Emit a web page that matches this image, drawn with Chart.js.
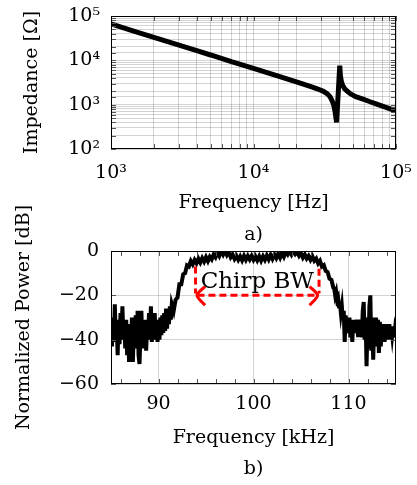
<!DOCTYPE html>
<html>
<head>
<meta charset="utf-8">
<script src="https://cdn.jsdelivr.net/npm/chart.js@4.4.0/dist/chart.umd.min.js"></script>
<style>
  body { margin: 0; background: #fff; }
  #wrap { position: relative; width: 417px; height: 485px; }
  canvas { position: absolute; left: 0; }
  #impChart { top: 0; }
  #powerChart { top: 180px; }
</style>
</head>
<body>
<div id="wrap">
  <canvas id="impChart" width="417" height="251"></canvas>
  <canvas id="powerChart" width="417" height="305"></canvas>
</div>
<script>
// a) impedance of the transducer (Hz, ohm)
const impFreq = [1000, 1500, 2000, 3000, 4000, 5000, 7000, 10000, 14000, 20000, 25000, 28000, 31000, 33000,
  34500, 35500, 36500, 37300, 37900, 38300, 40300, 40700, 41300, 42200, 43500, 45500, 48000, 52000, 58000,
  65000, 75000, 87000, 100000];
const impOhm = [66000, 44000, 33000, 22000, 16500, 13200, 9400, 6600, 4700, 3250, 2580, 2280, 2000, 1750,
  1500, 1250, 1000, 720, 500, 400, 7600, 4600, 3400, 2750, 2300, 2000, 1750, 1520, 1350,
  1180, 1000, 850, 720];

// b) received spectrum (kHz, dB)
const powerFreq = [
  85.0, 85.1, 85.2, 85.3, 85.4, 85.5, 85.6, 85.7, 85.8, 85.9, 86.0, 86.1, 86.2, 86.3, 86.4, 86.5, 86.6, 86.7, 86.8, 86.9,
  87.0, 87.1, 87.2, 87.3, 87.4, 87.5, 87.6, 87.7, 87.8, 87.9, 88.0, 88.1, 88.2, 88.3, 88.4, 88.5, 88.6, 88.7, 88.8, 88.9,
  89.0, 89.1, 89.2, 89.3, 89.4, 89.5, 89.6, 89.7, 89.8, 89.9, 90.0, 90.1, 90.2, 90.3, 90.4, 90.5, 90.6, 90.7, 90.8, 90.9,
  91.0, 91.1, 91.2, 91.3, 91.4,
  91.6, 91.8, 92.0, 92.2, 92.4, 92.6, 92.8, 93.0, 93.2, 93.4, 93.6, 93.8, 94.0, 94.2, 94.4, 94.6, 94.8,
  95.0, 95.2, 95.4, 95.6, 95.8, 96.0, 96.2, 96.4, 96.6, 96.8, 97.0, 97.2, 97.4, 97.6, 97.8,
  98.0, 98.2, 98.4, 98.6, 98.8, 99.0, 99.2, 99.4, 99.6, 99.8, 100.0, 100.2, 100.4, 100.6, 100.8,
  101.0, 101.2, 101.4, 101.6, 101.8, 102.0, 102.2, 102.4, 102.6, 102.8, 103.0, 103.2, 103.4, 103.6, 103.8,
  104.0, 104.2, 104.4, 104.6, 104.8, 105.0, 105.2, 105.4, 105.6, 105.8, 106.0, 106.2, 106.4, 106.6, 106.8,
  107.0, 107.2, 107.4, 107.6, 107.8, 108.0, 108.2, 108.4,
  108.5, 108.6, 108.7, 108.8, 108.9, 109.0, 109.1, 109.2, 109.3, 109.4, 109.5, 109.6, 109.7, 109.8, 109.9,
  110.0, 110.1, 110.2, 110.3, 110.4, 110.5, 110.6, 110.7, 110.8, 110.9, 111.0, 111.1, 111.2, 111.3, 111.4,
  111.5, 111.6, 111.7, 111.8, 111.9, 112.0, 112.1, 112.2, 112.3, 112.4, 112.5, 112.6, 112.7, 112.8, 112.9,
  113.0, 113.1, 113.2, 113.3, 113.4, 113.5, 113.6, 113.7, 113.8, 113.9, 114.0, 114.1, 114.2, 114.3, 114.4,
  114.5, 114.6, 114.7, 114.8, 114.9, 115.0];
const powerDb = [
  -36, -43, -30, -41, -24, -39, -33, -47, -31, -42, -28, -40, -25, -38, -31, -44, -31, -47, -35, -50,
  -33, -49, -30, -50, -36, -43, -29, -44, -27, -47, -51, -38, -27, -44, -33, -42, -31, -45, -34, -40,
  -28, -38, -25, -41, -30, -39, -28, -40, -32, -41, -31, -40, -30, -38, -29, -37, -28, -36, -26, -35,
  -27, -33, -25, -31, -24,
  -27, -22, -21, -15, -15, -10.5, -10, -6.5, -7, -4.5, -6, -4, -5.5, -3.5, -5.2, -3.2, -4.8,
  -2.8, -4.6, -2.6, -3.8, -1.6, -2.8, -0.6, -2.2, 0, -1.6, 0.2, -1.8, -0.4, -2.8, -1.6,
  -3.6, -2.2, -4, -2.4, -4.2, -2.2, -4, -2.2, -3.8, -2.2, -4, -2.4, -4.2, -2.4, -4.4,
  -2.4, -4, -2, -3.8, -1.8, -3.6, -1.6, -3.2, -1.2, -3, -0.8, -2.6, -0.4, -1.6, 0,
  -1.6, 0.2, -1.4, -0.4, -2.2, -1, -3, -1.6, -3.4, -2.2, -4, -2.4, -4.4, -3.4, -5.6,
  -4.4, -7, -6.4, -9, -9.5, -12.5, -13, -16.5,
  -17, -20, -18.5, -22, -21, -25, -23.5, -28, -25, -31, -27, -41, -29, -36, -30,
  -37, -30, -39, -31, -41, -31, -36, -32, -37, -31, -38, -32, -37, -31, -39,
  -27, -23, -40, -30, -52, -33, -44, -25, -20, -45, -30, -49, -33, -43, -30,
  -42, -31, -46, -32, -43, -33, -41, -34, -41, -33, -39, -34, -40, -33, -39,
  -34, -38, -34, -39, -35, -37];
const powerTicks = [86, 88, 90, 92, 94, 96, 98, 100, 102, 104, 106, 108, 110, 112, 114];

// chirp bandwidth marker (kHz / dB)
const bwStart = 93.9;
const bwEnd = 106.9;
const bwLevel = -20;
const bwTop = -7;
const bwLabel = "Chirp BW";

Chart.defaults.font.family = "'DejaVu Serif', serif";
Chart.defaults.font.size = 19;
Chart.defaults.color = "#000";

const gridGray = "rgba(0,0,0,0.17)";
const sup = { 2: "\u00B2", 3: "\u00B3", 4: "\u2074", 5: "\u2075" };

function powLabel(v) {
  const e = Math.log10(v);
  if (Math.abs(e - Math.round(e)) < 1e-9) return "10" + sup[Math.round(e)];
  return "";
}

// pgfplots-like frame + inner tick marks
const frameTicks = {
  id: "frameTicks",
  afterDatasetsDraw(chart) {
    const { ctx, chartArea: a, scales } = chart;
    const x = scales.x, y = scales.y;
    ctx.save();
    ctx.strokeStyle = "#555";
    ctx.lineWidth = 1;
    ctx.beginPath();
    x.ticks.forEach((t) => {
      const px = Math.round(x.getPixelForValue(t.value)) + 0.5;
      ctx.moveTo(px, a.bottom); ctx.lineTo(px, a.bottom - 5);
      ctx.moveTo(px, a.top); ctx.lineTo(px, a.top + 5);
    });
    y.ticks.forEach((t) => {
      const py = Math.round(y.getPixelForValue(t.value)) + 0.5;
      ctx.moveTo(a.left, py); ctx.lineTo(a.left + 5, py);
      ctx.moveTo(a.right, py); ctx.lineTo(a.right - 5, py);
    });
    ctx.stroke();
    ctx.strokeStyle = "#000";
    ctx.strokeRect(a.left + 0.5, a.top + 0.5, a.width - 1, a.height - 1);
    ctx.restore();
  },
};

function noPad(scale) {
  scale.paddingLeft = 0;
  scale.paddingRight = 0;
  scale.paddingTop = 0;
  scale.paddingBottom = 0;
}

// ---- a) impedance ----
new Chart(document.getElementById("impChart").getContext("2d"), {
  type: "line",
  data: {
    datasets: [
      {
        data: impFreq.map((f, i) => ({ x: f, y: impOhm[i] })),
        borderColor: "#000",
        borderWidth: 5,
        borderJoinStyle: "bevel",
        pointRadius: 0,
        tension: 0,
        clip: 0,
      },
    ],
  },
  options: {
    responsive: false,
    animation: false,
    layout: { padding: { top: 16, right: 21, left: 0, bottom: 0 } },
    plugins: { legend: { display: false }, tooltip: { enabled: false } },
    scales: {
      x: {
        type: "logarithmic",
        min: 1000,
        max: 100000,
        grid: { color: gridGray, drawTicks: false },
        border: { display: false },
        ticks: { autoSkip: false, maxRotation: 0, padding: 13, callback: (v) => powLabel(v) },
        title: {
          display: true,
          text: ["Frequency [Hz]", "a)"],
          font: { size: 19, lineHeight: 1.68 },
          padding: { top: 0, bottom: 0 },
        },
        afterFit(scale) { noPad(scale); scale.height = 102; },
      },
      y: {
        type: "logarithmic",
        min: 100,
        max: 100000,
        grid: { color: gridGray, drawTicks: false },
        border: { display: false },
        ticks: { autoSkip: false, padding: 11, callback: (v) => powLabel(v) },
        title: {
          display: true,
          text: "Impedance [\u03A9]",
          padding: { top: 21, bottom: 0 },
        },
        afterFit(scale) { noPad(scale); scale.width = 111; },
      },
    },
  },
  plugins: [frameTicks],
});

// ---- b) spectrum ----
const bwText = {
  id: "bwText",
  afterDatasetsDraw(chart) {
    const { ctx, scales: { x, y } } = chart;
    ctx.save();
    ctx.font = "23px 'DejaVu Serif', serif";
    ctx.fillStyle = "#000";
    ctx.textAlign = "center";
    ctx.textBaseline = "alphabetic";
    ctx.fillText(bwLabel, x.getPixelForValue((bwStart + bwEnd) / 2), y.getPixelForValue(-16.5));
    ctx.restore();
  },
};

const red = "#ff0000";
const redDash = { borderColor: red, borderWidth: 3, borderDash: [7, 4], pointRadius: 0, tension: 0 };
const redSolid = { borderColor: red, borderWidth: 3, pointRadius: 0, tension: 0.3 };

new Chart(document.getElementById("powerChart").getContext("2d"), {
  type: "line",
  data: {
    datasets: [
      { ...redDash, data: [{ x: bwStart, y: bwTop }, { x: bwStart, y: bwLevel + 0.8 }] },
      { ...redDash, data: [{ x: bwEnd, y: bwTop - 1 }, { x: bwEnd, y: bwLevel + 0.8 }] },
      { ...redDash, data: [{ x: bwStart + 0.2, y: bwLevel }, { x: bwEnd - 0.2, y: bwLevel }] },
      { ...redSolid, data: [{ x: bwStart + 1.0, y: bwLevel + 4 }, { x: bwStart + 0.15, y: bwLevel }, { x: bwStart + 1.0, y: bwLevel - 4.5 }] },
      { ...redSolid, data: [{ x: bwEnd - 1.0, y: bwLevel + 4 }, { x: bwEnd - 0.15, y: bwLevel }, { x: bwEnd - 1.0, y: bwLevel - 4.5 }] },
      {
        data: powerFreq.map((f, i) => ({ x: f, y: powerDb[i] })),
        borderColor: "#000",
        borderWidth: 4,
        pointRadius: 0,
        tension: 0,
        clip: 0,
      },
    ],
  },
  options: {
    responsive: false,
    animation: false,
    layout: { padding: { top: 71, right: 21, left: 0, bottom: 0 } },
    plugins: { legend: { display: false }, tooltip: { enabled: false } },
    scales: {
      x: {
        type: "linear",
        min: 85,
        max: 115,
        afterBuildTicks(scale) { scale.ticks = powerTicks.map((v) => ({ value: v })); },
        grid: {
          drawTicks: false,
          color: (c) => (c.tick && c.tick.value % 10 === 0 ? gridGray : "rgba(0,0,0,0)"),
        },
        border: { display: false },
        ticks: { autoSkip: false, maxRotation: 0, padding: 9, callback: (v) => (v % 10 === 0 ? String(v) : "") },
        title: {
          display: true,
          text: ["Frequency [kHz]", "b)"],
          font: { size: 19, lineHeight: 1.65 },
          padding: { top: 0, bottom: 0 },
        },
        afterFit(scale) { noPad(scale); scale.height = 101; },
      },
      y: {
        min: -60,
        max: 0,
        grid: { color: gridGray, drawTicks: false },
        border: { display: false },
        ticks: { stepSize: 20, padding: 12, callback: (v) => String(v).replace("-", "\u2212") },
        title: {
          display: true,
          text: "Normalized Power [dB]",
          padding: { top: 12.5, bottom: 0 },
        },
        afterFit(scale) { noPad(scale); scale.width = 111; },
      },
    },
  },
  plugins: [frameTicks, bwText],
});
</script>
</body>
</html>
